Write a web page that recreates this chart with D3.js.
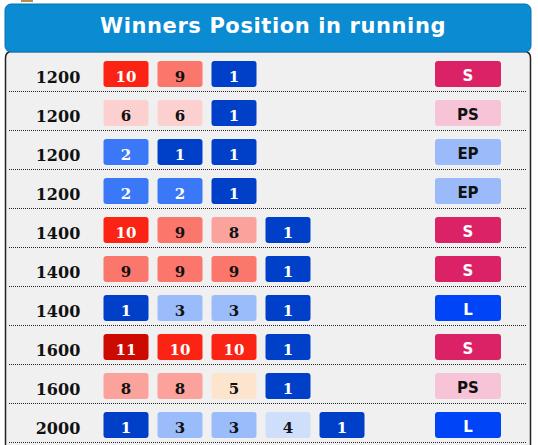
<!DOCTYPE html>
<html>
<head>
<meta charset="utf-8">
<script src="https://cdn.jsdelivr.net/npm/d3@7"></script>
<style>
  body { margin: 0; background: #fff; overflow: hidden; }
</style>
</head>
<body>
<script>
var width = 538, height = 445;

// race distances, positions in running (last one is the finish) and run style
var distances = [1200, 1200, 1200, 1200, 1400, 1400, 1400, 1600, 1600, 2000];
var positions = [
  [10, 9, 1],
  [6, 6, 1],
  [2, 1, 1],
  [2, 2, 1],
  [10, 9, 8, 1],
  [9, 9, 9, 1],
  [1, 3, 3, 1],
  [11, 10, 10, 1],
  [8, 8, 5, 1],
  [1, 3, 3, 4, 1]
];
var styles = ['S', 'PS', 'EP', 'EP', 'S', 'S', 'L', 'S', 'PS', 'L'];

var posValues = [1, 2, 3, 4, 5, 6, 8, 9, 10, 11];
var posColours = ['#0040c8', '#3a78f8', '#9bbcfa', '#cfdefa', '#fde4cc',
                  '#fbd0cf', '#fba29d', '#fb776c', '#fb2414', '#cc0a00'];
var styleNames = ['S', 'PS', 'EP', 'L'];
var styleColours = ['#dc2266', '#f6c4d6', '#9bbafa', '#0044f8'];

var svg = d3.select('body')
    .append('svg')
    .attr('width', width)
    .attr('height', height);

// scales
var y = d3.scaleBand()
    .domain(d3.range(distances.length))
    .range([54.5, 54.5 + 39 * distances.length]);
var x = d3.scaleLinear()   // column index -> left edge of the box
    .domain([0, 1])
    .range([103.5, 157.5]);
var posColour = d3.scaleOrdinal().domain(posValues).range(posColours);
var styleColour = d3.scaleOrdinal().domain(styleNames).range(styleColours);
function posText(p) { return (p <= 2 || p >= 10) ? '#fff' : '#111'; }
function styleText(s) { return (s == 'S' || s == 'L') ? '#fff' : '#111'; }

var boxW = 45, boxH = 26, badgeX = 435, badgeW = 66;

// little cut off icon at the very top
svg.append('rect')
    .attr('x', 21).attr('y', -3)
    .attr('width', 12).attr('height', 5)
    .attr('fill', '#b98a4e');

// panel under the header
svg.append('path')
    .attr('d', 'M5.5,' + (height + 10) + ' V58 Q5.5,51.5 12,51.5 H524 Q530.5,51.5 530.5,58 V' + (height + 10))
    .attr('fill', '#f0f0f0')
    .attr('stroke', '#222')
    .attr('stroke-width', 1.5);

// header
svg.append('rect')
    .attr('x', 5).attr('y', 4)
    .attr('width', 526).attr('height', 48)
    .attr('rx', 6)
    .attr('fill', '#0a8bd2')
    .attr('stroke', '#0b6fae')
    .attr('stroke-width', 1);

svg.append('text')
    .attr('x', 273)
    .attr('y', 33)
    .attr('text-anchor', 'middle')
    .style('font-family', 'DejaVu Sans')
    .style('font-weight', 'bold')
    .style('font-size', '21px')
    .style('letter-spacing', '0.6px')
    .attr('fill', '#fff')
    .text('Winners Position in running');

var rows = svg.append('g').selectAll('g')
    .data(d3.range(distances.length))
    .enter().append('g')
    .attr('transform', function(i) { return 'translate(0,' + (y(i) + y.bandwidth() / 2) + ')'; });

// dotted separators
rows.append('line')
    .attr('x1', 9).attr('x2', 527)
    .attr('y1', 17.5).attr('y2', 17.5)
    .attr('stroke', '#222')
    .attr('stroke-width', 1)
    .attr('stroke-dasharray', '1,1');

rows.append('text')
    .attr('x', 58)
    .attr('y', 8.5)
    .attr('text-anchor', 'middle')
    .style('font-family', 'DejaVu Serif')
    .style('font-weight', 'bold')
    .style('font-size', '16px')
    .attr('fill', '#111')
    .text(function(i) { return distances[i]; });

var cells = rows.selectAll('.cell')
    .data(function(i) { return positions[i]; })
    .enter().append('g')
    .attr('class', 'cell')
    .attr('transform', function(d, j) { return 'translate(' + x(j) + ',0)'; });

cells.append('rect')
    .attr('x', 0).attr('y', -boxH / 2)
    .attr('width', boxW).attr('height', boxH)
    .attr('rx', 3)
    .attr('fill', function(d) { return posColour(d); });

cells.append('text')
    .attr('x', boxW / 2)
    .attr('y', 8)
    .attr('text-anchor', 'middle')
    .style('font-family', 'DejaVu Serif')
    .style('font-weight', 'bold')
    .style('font-size', '15px')
    .attr('fill', function(d) { return posText(d); })
    .text(function(d) { return d; });

// run style badge
rows.append('rect')
    .attr('x', badgeX).attr('y', -boxH / 2)
    .attr('width', badgeW).attr('height', boxH)
    .attr('rx', 3)
    .attr('fill', function(i) { return styleColour(styles[i]); });

rows.append('text')
    .attr('x', badgeX + badgeW / 2)
    .attr('y', 7)
    .attr('text-anchor', 'middle')
    .style('font-family', 'DejaVu Sans')
    .style('font-weight', 'bold')
    .style('font-size', '15px')
    .attr('fill', function(i) { return styleText(styles[i]); })
    .text(function(i) { return styles[i]; });
</script>
</body>
</html>
